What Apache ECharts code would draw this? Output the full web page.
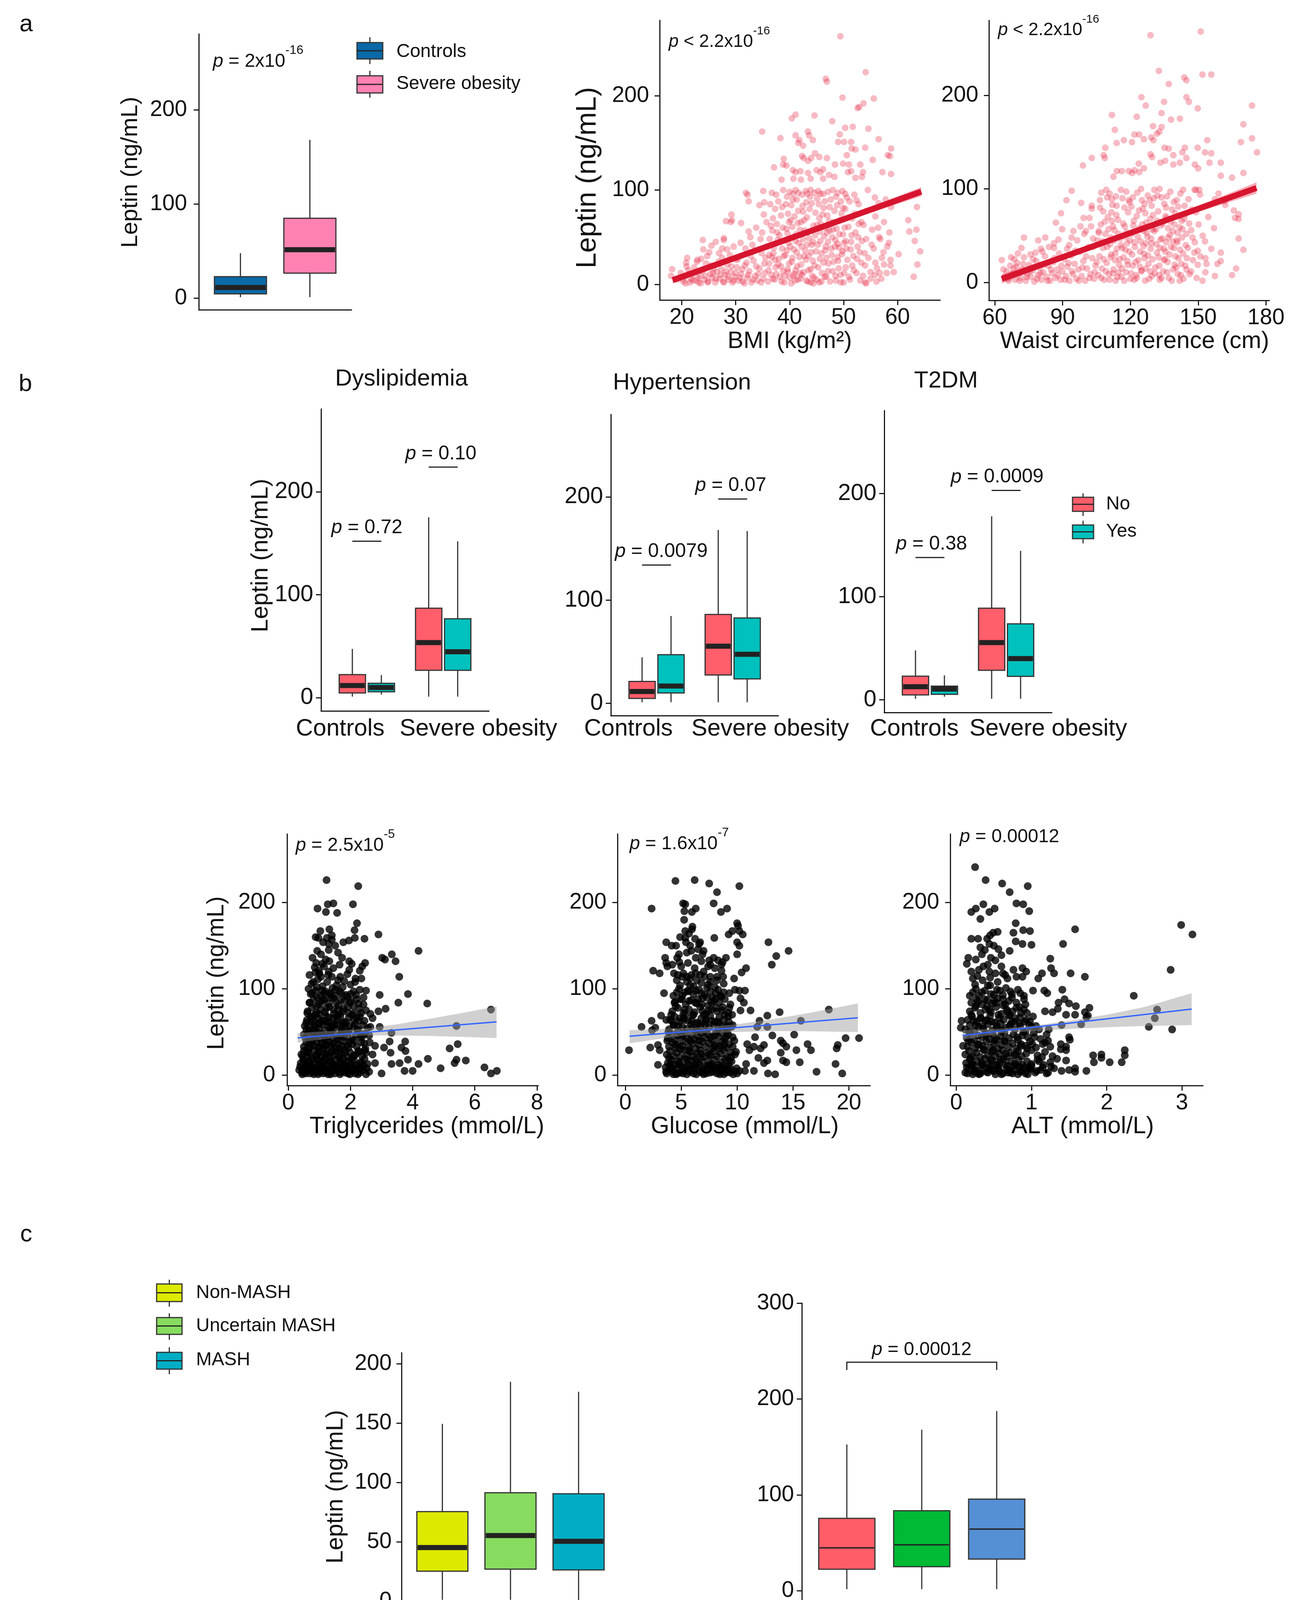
<!DOCTYPE html>
<html>
<head>
<meta charset="utf-8">
<script src="https://cdn.jsdelivr.net/npm/echarts@6/dist/echarts.min.js"></script>
<style>html,body{margin:0;padding:0;background:#fff}#c{width:3331px;height:4284px}</style>
</head>
<body>
<div id="c"></div>
<script>
// ---------------- DATA ----------------
// Panel a: box plot (min, q1, median, q3, max)
const aBoxCats = ['Controls', 'Severe obesity'];
const aBoxStats = [[1, 4.5, 11.2, 22.8, 47.7], [1, 26.5, 51.4, 84.8, 168]];
const leptinTicks = [0, 100, 200];

// Panel a: BMI scatter
const bmiTicks = [20, 30, 40, 50, 60];
const bmiPoints = [
[49.4,263],[54.1,225],[46.7,218],[46.9,215],[49.8,198],[55.6,197],[52.6,187],[52.9,188],[53.7,192],[40.4,176],[41.1,180],[44.6,179],[47.9,173],[34.9,162],[50.3,166],[51.7,167],[54.6,165],[43.4,162],[43.6,158],[49.3,159],[49,151],[50.1,151],[51.4,151],[38.3,155],[41.1,158],[41.8,153],[41.6,150],[42.5,147],[44.3,153],[56.5,154],[54,145],[51.5,144],[52.2,143],[58.8,144],[58.2,137],[58.6,136],[50.6,137],[44.7,139],[45.5,135],[44,134],[42.3,136],[42.6,134],[43.4,131],[38.9,133],[38.8,127],[39.4,126],[46.9,134],[48.4,127],[49.9,128],[51,127],[53.1,127],[55.4,132],[37.1,124],[40.6,121],[41.1,119],[42,120],[43.4,118],[45,121],[45.7,119],[46.2,122],[47.3,116],[48.3,114],[50.8,119],[51.4,120],[52.2,113],[53.4,114],[53.6,119],[57.2,119],[58.8,117],[38.5,111],[40.7,112],[42.1,111],[43.9,112],[46.2,112],[32.2,95],[32.4,88],[54.5,100],[52.4,89],[55.8,92],[58.8,82],[63.6,82],[62,68],[63.5,58],[62.2,56],[63.2,46],[64.2,35],[63.7,21],[63,8],[60.2,32],[56.6,50],[58.4,44],[58.7,26],[58.7,20],[59.3,13],[57.5,21],[55.9,23],[56.7,12],[55,13],[53.3,23],[54.2,1],[34.4,84],[35.3,87],[35.2,74],[33.8,60],[32.4,56],[31,65],[29.2,74],[29.3,68],[28.2,67],[29.1,66],[23.9,47],[26.3,45],[27.8,49],[27.8,47],[28.4,37],[27.5,38],[24,37],[21,28],[20.8,23],[18.2,16],[18,9],[22.9,26],
[31.9,97],[35.1,99],[36.7,97],[38.8,100],[40,98],[40.6,96],[41.1,100],[41.6,97],[43,99],[43.9,100],[44.6,97],[45.3,99],[45.7,96],[47.1,98],[48,100],[48.9,97],[49.8,99],[50.3,96],
[19.2,5],[19.8,12],[20.3,3],[20.6,8],[21.2,15],[21.5,2],[21.9,10],[22.3,18],[22.6,4],[22.8,24],[21.7,6],[20.9,19],
[23.1,2],[23.4,9],[23.8,14],[24.2,5],[24.5,22],[24.9,3],[25.3,11],[25.6,7],[25.9,17],[26.2,2],[26.5,13],[24.7,30],[23.6,27],[25.1,34],
[27.0,6],[27.3,16],[27.7,3],[28.0,10],[28.4,21],[28.7,5],[29.1,13],[29.4,2],[29.8,8],[30.2,18],[30.5,4],[27.5,28],[28.9,31],[30.1,26],
[31.0,11],[31.3,3],[31.7,20],[32.1,7],[32.5,14],[32.9,2],[33.3,25],[33.6,9],[34.0,4],[34.4,17],[34.8,33],[35.1,6],[35.4,12],[31.8,38],[33.1,42],[34.6,48],[35.5,28],
[36.0,3],[36.2,22],[36.4,41],[36.6,10],[36.8,57],[37.0,33],[37.2,5],[37.4,18],[37.6,64],[37.8,47],[38.0,27],[38.2,8],[38.4,73],[38.6,38],[38.8,14],[36.5,62],[37.3,80],[37.9,88],[36.9,70],[38.1,52],
[39.0,2],[39.2,31],[39.4,59],[39.6,16],[39.8,44],[40.0,7],[40.2,68],[40.4,24],[40.6,90],[40.8,37],[41.0,4],[41.2,53],[41.4,19],[41.6,78],[41.8,29],[39.3,85],[39.7,75],[40.5,61],[41.1,46],[40.9,11],[39.9,22],[41.5,65],
[42.0,6],[42.2,40],[42.4,83],[42.6,13],[42.8,57],[43.0,26],[43.2,71],[43.4,3],[43.6,49],[43.8,93],[44.0,34],[44.2,9],[44.4,62],[44.6,20],[44.8,76],[42.3,95],[43.1,87],[43.9,2],[44.3,45],[42.7,30],[43.5,15],[42.1,66],
[45.0,5],[45.2,42],[45.4,85],[45.6,27],[45.8,64],[46.0,12],[46.2,96],[46.4,51],[46.6,36],[46.8,8],[47.0,73],[47.2,22],[47.4,57],[47.6,90],[47.8,31],[45.5,70],[46.3,81],[47.1,45],[45.9,3],[46.7,60],
[48.0,14],[48.2,66],[48.4,40],[48.6,4],[48.8,84],[49.0,25],[49.2,53],[49.4,10],[49.6,75],[49.8,35],[50.0,2],[50.2,60],[50.4,18],[50.6,92],[48.5,47],[49.5,88],[50.1,44],[48.9,29],
[51.0,8],[51.3,37],[51.6,70],[51.9,15],[52.2,55],[52.5,27],[52.8,85],[53.1,4],[53.4,46],[53.7,63],[54.0,20],[54.3,78],[51.5,52],[52.6,40],[53.9,33],[52.0,95],
[55.0,6],[55.3,58],[55.6,38],[55.9,72],[56.2,17],[56.5,86],[56.8,48],[57.1,28],[57.5,66],[57.8,90],[58.1,40],[55.5,80],[56.1,3],
[36.1,15],[36.3,48],[36.7,29],[36.9,6],[37.1,39],[37.5,11],[37.7,55],[37.9,21],[38.3,45],[38.5,3],[38.7,60],[38.9,30],[39.1,9],[39.3,47],[39.5,36],[39.7,13],[39.9,66],[40.1,40],[40.3,1],[40.5,28],[40.7,50],[40.9,72],[41.1,15],[41.3,34],[41.5,5],[41.7,44],[41.9,58],[42.1,21],[42.3,10],[42.5,48],[42.7,68],[42.9,36],[43.1,4],[43.3,55],[43.5,30],[43.7,80],[43.9,16],[44.1,42],[44.3,25],[44.5,7],[44.7,52],[44.9,35],[45.1,63],[45.3,18],[45.5,2],[45.7,46],[45.9,33],[46.1,74],[46.3,23],[46.5,8],[46.7,40],[46.9,55],[47.1,14],[47.3,67],[47.5,3],[47.7,38],[47.9,50],[48.1,24],[48.3,78],[48.5,9],[48.7,59],[48.9,43],[49.1,17],[49.3,68],[49.5,2],[49.7,32],[49.9,53],[50.1,12],[50.3,80],[50.5,38],[50.7,26],[50.9,61],[51.2,5],[51.4,45],[51.8,30],[52.1,75],[52.4,12],[52.7,50],[53.0,34],[53.3,66],[53.6,9],[54.2,48],[54.6,28],[55.2,42],[55.8,10],[56.4,60],[57.0,6],[57.4,34],[58.0,12],[58.5,55],
[36.4,85],[37.5,95],[38.6,82],[39.5,93],[40.3,84],[41.3,90],[42.5,77],[43.3,96],[44.1,86],[45.1,91],[46.5,88],[47.4,82],[48.6,93],[49.9,81],[51.1,88],
[20.1,6],[20.7,1],[21.4,11],[22.0,4],[22.5,13],[23.0,7],[23.5,1],[24.0,16],[24.4,9],[24.8,2],[25.4,20],[25.8,12],[26.3,6],[26.8,24],[27.2,10],[27.8,2],[28.2,14],[28.6,8],[29.2,19],[29.6,4],[30.0,12],[30.4,27],[30.8,7],[31.2,16],[31.6,1],[32.0,23],[32.3,10],[32.8,30],[33.2,5],[33.8,19],[34.2,11],[34.7,2],[35.3,22],[35.8,40],[33.5,36],[34.9,55],[35.7,66],[32.7,50],[30.9,44],[29.6,40],[26.9,33],[25.5,41],
[36.2,31],[37.3,26],[38.4,19],[39.6,54],[40.7,9],[41.9,12],[43.2,42],[44.4,1],[45.6,56],[46.8,28],[48.0,58],[49.2,39],[50.4,46],[51.6,20],[52.8,64],[54.0,2]
];
const bmiFit = [[18.3, 4.5], [64.4, 98.3]];
const bmiBand = [[18.3, 1, 8], [30, 26.3, 30.5], [42, 50.6, 54.6], [54, 74, 80], [64.4, 93.5, 103]];

// Panel a: waist scatter
const waistTicks = [60, 90, 120, 150, 180];
const waistPoints = [
[128.9,264],[151.1,268],[132.6,226],[151.9,222],[155.8,222],[137,212],[143.8,219],[144.8,216],[124.9,198],[134.9,193],[144.8,198],[145.9,193],[126.8,189],[149.8,186],[173.8,189],[111.8,179],[122.8,177],[133.8,181],[138,174],[141.9,175],[130,167],[133.8,166],[132.8,161],[131.7,159],[113.1,163],[170,169],[121.8,158],[123.9,158],[126,153],[129.2,155],[130.2,152],[113.9,149],[117.1,152],[120.7,150],[154,152],[173.8,154],[168.9,150],[108.9,144],[135.1,144],[137,143],[149.8,144],[144.1,144],[153,139],[155.8,138],[176,139],[102.9,133],[108.2,136],[108.7,133],[128.9,137],[129.6,134],[139,136],[143,139],[144.8,133],[99,125],[123.7,127],[126,122],[133.3,128],[135.4,130],[141.9,128],[139,126],[148.5,126],[150,122],[155,128],[160,128],[112.5,113],[114,119],[116.2,119],[119.3,119],[120.8,117],[123.9,118],[121.8,120],[170,117],[160,114],[165,112],
[63.1,24],[72.9,48],[79.2,45],[82.3,48],[80.4,36],[86.2,42],[86.2,37],
[94,98],[91.7,88],[89.3,74],[87,64],[89.8,57],[94,48],[92,36],[98.2,85],[99.3,69],[101.9,69],[102.9,82],[102.9,79],[106.6,80],[107.1,96],[109.7,91],[111.8,89],[103.5,47],[106,53],[100.3,55],
[167.9,73],[167.9,68],[167.9,47],[170,35],[166.8,15],[165,8],[160,32],[160,23],[157.4,7],[153,44],[153.2,26],[153.7,20],[151.9,2],[149.8,19],[149.8,34],[159,95],[157.4,89],[161.6,87],[162,83],[165.8,77],[166.3,69],[149,99],[150.5,99],[148.4,99],[150.8,94],
[64.5,6],[65.2,12],[66.1,2],[66.8,18],[67.5,8],[68.3,15],[69.0,3],[69.8,21],[70.6,10],[71.3,5],[72.1,14],[72.9,27],[73.7,2],[74.4,9],[75.2,19],[76.0,6],[76.8,13],[77.5,1],[78.3,23],[79.1,8],[79.8,16],[80.6,3],[81.4,11],[82.2,28],[82.9,6],[83.7,18],[84.5,2],[85.3,10],[86.0,22],[86.8,5],[87.6,14],[88.4,31],[89.1,3],[89.9,12],[90.7,25],[91.5,7],[92.2,17],[93.0,2],[93.8,29],[94.6,9],[95.3,20],[96.1,4],[96.9,14],[97.7,33],[98.4,7],[99.2,23],[100.0,2],[100.8,15],[101.5,38],[102.3,9],[103.1,26],[103.9,4],[104.6,18],[67.2,27],[70.2,31],[75.8,30],[81.0,33],
[105.4,45],[105.8,8],[106.3,28],[106.9,62],[107.4,15],[107.9,37],[108.4,3],[108.9,52],[109.5,21],[110.0,70],[110.5,9],[111.0,41],[111.5,30],[112.0,83],[112.5,14],[113.0,56],[113.5,2],[114.0,36],[114.5,67],[115.0,19],[115.5,47],[116.0,6],[116.5,90],[117.0,27],[117.5,60],[118.0,11],[118.5,42],[119.0,75],[119.5,33],[120.0,4],[120.5,52],[121.0,18],[121.5,66],[122.0,38],[122.5,8],[123.0,96],[123.5,24],[124.0,58],[124.5,44],[125.0,13],[125.5,79],[126.0,31],[126.5,2],[127.0,64],[127.5,49],[128.0,20],[128.5,88],[129.0,36],[129.5,7],[130.0,72],[130.5,55],[131.0,16],[131.5,41],[132.0,93],[132.5,27],[133.0,3],[133.5,61],[134.0,47],[134.5,12],[135.0,84],[135.5,33],[136.0,69],[136.5,22],[137.0,5],[137.5,51],[138.0,38],[138.5,78],[139.0,14],[139.5,62],[140.0,28],[140.5,45],[141.0,9],[141.5,71],[142.0,35],[142.5,20],[143.0,57],[143.5,4],[144.0,82],[144.5,40],[145.0,26],[146.0,63],[146.8,12],[147.5,48],[148.3,32],[149.0,75],[110.8,95],[115.8,99],[119.7,86],[124.7,100],[127.7,93],[130.6,99],[133.8,91],[137.7,97],[140.5,88],[143.3,99],[113.2,24],[117.8,49],[121.7,3],[125.8,55],[128.8,12],[131.8,66],[134.8,24],[138.8,44],[141.8,2],[144.8,14],[112.3,60],[116.4,37],[120.4,81],[124.2,17],[126.9,42],[129.8,57],[132.7,8],[135.8,43],[139.6,19],[142.7,66],[108.0,76],[111.3,48],[114.8,11],[118.7,23],[122.8,71],[126.3,26],[129.2,47],[133.1,37],[136.7,58],[140.9,53],
[105.1,22],[106.0,55],[107.1,5],[107.6,44],[108.2,25],[108.7,65],[109.2,12],[109.8,38],[110.3,57],[110.8,3],[111.3,27],[111.8,66],[112.3,10],[112.8,45],[113.3,31],[113.8,72],[114.3,6],[114.8,52],[115.3,25],[115.8,40],[116.3,15],[116.8,63],[117.3,2],[117.8,35],[118.3,54],[118.8,19],[119.3,88],[119.8,45],[120.3,10],[120.8,30],[121.3,61],[121.8,43],[122.3,22],[122.8,5],[123.3,49],[123.8,77],[124.3,33],[124.8,12],[125.3,62],[125.8,39],[126.3,84],[126.8,15],[127.3,53],[127.8,29],[128.3,4],[128.8,68],[129.3,42],[129.8,25],[130.3,90],[130.8,10],[131.3,57],[131.8,32],[132.3,76],[132.8,18],[133.3,46],[133.8,5],[134.3,63],[134.8,36],[135.3,25],[135.8,80],[136.3,11],[136.8,48],[137.3,30],[137.8,65],[138.3,2],[138.8,55],[139.3,37],[139.8,74],[140.3,16],[140.8,43],[141.3,26],[141.8,59],[142.3,8],[142.8,48],[143.3,31],[143.8,68],[144.3,18],[144.8,52],[145.4,37],[146.2,9],[146.9,56],[147.7,24],[148.5,43],[149.3,5],[150.2,62],[151.0,28],[152.0,50],[153.2,11],[154.5,70],[155.8,36],[157.0,58],[158.5,20],
[63.8,14],[65.8,4],[67.9,10],[69.5,17],[71.0,2],[72.5,20],[74.0,6],[75.5,12],[77.0,25],[78.7,4],[80.2,10],[81.8,19],[83.3,2],[84.9,14],[86.4,26],[87.9,8],[89.5,18],[91.0,3],[92.6,21],[94.1,12],[95.7,34],[97.2,2],[98.8,16],[100.4,28],[101.9,5],[103.5,38],[104.2,11],[92.9,40],[96.5,45],[99.6,52],[102.6,60],[97.9,60],[94.8,55],[88.2,46],[84.0,38],[78.0,32],[71.8,37],[68.6,25],
[106.5,88],[109.3,99],[113.6,92],[118.2,97],[121.1,91],[125.1,88],[129.4,82],[132.9,100],[136.2,92],[139.2,86],[142.1,95],[145.7,89],[147.2,78],[144.4,73],[113.9,82],[111.6,75],[117.4,80],[126.6,74],[135.5,71],[141.2,81]
];
const waistFit = [[63.1, 4], [175.8, 101]];
const waistBand = [[63.1, -1, 9], [90, 24.5, 30], [120, 51, 55], [150, 75.5, 82], [175.8, 95, 107]];

// Panel b: comorbidity box plots (min, q1, median, q3, max), groups Controls / Severe obesity
const bGroups = ['Controls', 'Severe obesity'];
const bLegend = ['No', 'Yes'];
const dysNo = [[1, 4.6, 11.8, 22.4, 47.4], [1, 26.6, 53.5, 86.9, 175.3]];
const dysYes = [[3, 5.7, 9.9, 14.0, 22], [1, 26.6, 44.6, 76.7, 152]];
const hypNo = [[1, 4.7, 11.4, 21.1, 44.5], [1, 27.4, 55.3, 86.1, 168]];
const hypYes = [[1, 10.0, 16.7, 47.1, 84.6], [1, 23.6, 47.5, 82.7, 167]];
const t2dmNo = [[1, 4.7, 12.7, 22.9, 47.9], [1, 28.6, 55.5, 88.8, 178]];
const t2dmYes = [[3, 5.3, 10.4, 13.3, 23.7], [1, 22.7, 40.0, 73.7, 144.5]];
const dysP = [[1, 152, '0.72'], [2, 224, '0.10']];
const hypP = [[1, 134, '0.0079'], [2, 198, '0.07']];
const t2dmP = [[1, 138, '0.38'], [2, 203, '0.0009']];

// Panel b: scatter plots
const tgTicks = [0, 2, 4, 6, 8];
const tgPoints = [
[1.23,226],[2.25,219],[0.94,193],[1.27,198],[1.45,199],[2.08,198],[1.21,189],[1.57,188],[2.21,176],[2.13,168],[1.03,167],[1.32,169],[2.9,163],[2.14,159],[2.45,158],[0.97,159],[1.24,159],[1.4,157],[1.77,154],[1.95,156],[1.3,152],[1.51,150],[0.93,144],[4.19,144],[3.33,140],[3.02,136],[3.11,134],[3.45,132],[1.73,136],[1.96,132],[2.04,129],[2.47,130],[2.38,126],[1.09,129],[1.15,126],[1.32,132],[0.68,116],[0.87,119],[0.98,121],[1.96,122],[2.3,121],[2.16,112],[1.67,114],[3.57,114],[3.85,94],[2.94,93],[4.47,83],[3.54,84],[5.41,57],[6.52,76],[5.45,36],[5.19,31],[4.49,19],[5.35,14],[5.41,18],[5.71,17],[4.9,8],[6.31,9],[6.52,2],[6.71,5],[4.19,13],[4.0,5],[3.74,5],[3.32,13],[3.58,14],[3.85,18],[3.76,39],[3.64,32],[3.77,28],[3.26,39],[3.29,26],[3.08,32],[3.0,2],[2.94,56],[3.13,77],[2.9,74],[3.32,49],[2.64,56],[2.62,38],[2.79,34],[2.71,24],[2.79,14],[2.64,71],[2.71,66],
[0.35,6],[0.45,1],[0.52,4],[0.6,8],[0.68,2],[0.75,5],[0.82,1],[0.9,7],[0.97,3],[1.05,9],[1.12,2],[1.2,6],[1.28,1],[1.35,4],[1.43,8],[1.5,2],[1.58,5],[1.66,1],[1.74,7],[1.82,3],[1.9,9],[1.98,1],[2.06,5],[2.14,2],[2.22,7],[2.3,3],[2.4,6],[2.5,1],[2.6,4],
[0.4,14],[0.48,18],[0.56,12],[0.64,16],[0.72,11],[0.8,19],[0.88,13],[0.96,17],[1.04,12],[1.12,15],[1.2,19],[1.28,11],[1.36,16],[1.44,13],[1.52,18],[1.6,12],[1.68,15],[1.76,19],[1.84,11],[1.92,16],[2.0,13],[2.1,18],[2.2,12],[2.32,15],[2.45,19],[2.55,13],
[0.42,24],[0.5,28],[0.58,22],[0.66,26],[0.74,21],[0.82,29],[0.9,23],[0.98,27],[1.06,22],[1.14,25],[1.22,29],[1.3,21],[1.38,26],[1.46,23],[1.54,28],[1.62,22],[1.7,25],[1.8,29],[1.9,21],[2.0,26],[2.12,23],[2.25,28],[2.38,22],[2.5,26],
[0.5,33],[0.58,38],[0.66,31],[0.74,36],[0.82,34],[0.9,39],[0.98,32],[1.06,37],[1.14,31],[1.22,35],[1.3,39],[1.38,33],[1.46,37],[1.54,31],[1.62,36],[1.72,34],[1.82,39],[1.94,32],[2.06,36],[2.2,33],[2.35,38],[2.48,31],
[0.55,43],[0.63,48],[0.71,41],[0.79,46],[0.87,44],[0.95,49],[1.03,42],[1.11,47],[1.19,41],[1.27,45],[1.35,49],[1.43,43],[1.51,47],[1.6,41],[1.7,46],[1.8,44],[1.92,49],[2.05,42],[2.18,47],[2.32,44],[2.45,48],[2.6,46],
[0.58,53],[0.68,58],[0.78,51],[0.88,56],[0.98,54],[1.08,59],[1.18,52],[1.28,57],[1.38,51],[1.48,55],[1.58,59],[1.7,53],[1.82,57],[1.95,51],[2.1,56],[2.25,53],[2.4,58],
[0.6,64],[0.72,68],[0.84,62],[0.96,66],[1.08,63],[1.2,69],[1.32,61],[1.44,66],[1.56,64],[1.68,69],[1.8,62],[1.95,67],[2.1,64],[2.3,68],[2.45,63],
[0.62,74],[0.76,78],[0.9,72],[1.04,76],[1.18,73],[1.32,79],[1.46,71],[1.6,76],[1.76,74],[1.92,79],[2.1,72],[2.28,77],[2.5,75],
[0.68,84],[0.82,88],[0.98,82],[1.14,87],[1.3,83],[1.46,89],[1.62,81],[1.8,86],[1.98,84],[2.2,88],[2.42,82],
[0.72,94],[0.88,98],[1.04,92],[1.2,97],[1.36,93],[1.52,99],[1.7,95],[1.9,91],[2.1,97],[2.3,99],[2.5,98],
[0.75,106],[0.95,111],[1.1,103],[1.25,108],[1.4,114],[1.55,104],[1.8,109],[2.0,105],[1.0,118],[1.3,120],[0.85,125],
[0.38,10],[0.46,22],[0.54,9],[0.62,31],[0.7,14],[0.78,40],[0.86,6],[0.94,25],[1.02,48],[1.1,17],[1.18,35],[1.26,4],[1.34,54],[1.42,28],[1.5,11],[1.58,43],[1.66,19],[1.74,61],[1.82,26],[1.9,5],[1.98,39],[2.06,70],[2.14,23],[2.22,52],[2.3,9],[2.38,45],[2.46,29],[2.56,55],
[0.44,3],[0.52,16],[0.6,27],[0.68,38],[0.76,9],[0.84,52],[0.92,18],[1.0,33],[1.08,5],[1.16,44],[1.24,24],[1.32,15],[1.4,36],[1.48,58],[1.56,7],[1.64,30],[1.72,50],[1.8,13],[1.88,34],[1.96,57],[2.04,19],[2.12,40],[2.2,66],[2.28,27],[2.36,14],[2.44,37],
[0.5,47],[0.58,61],[0.66,52],[0.74,66],[0.82,59],[0.9,80],[0.98,71],[1.06,85],[1.14,63],[1.22,78],[1.3,67],[1.38,90],[1.46,76],[1.54,84],[1.62,70],[1.7,88],[1.78,77],[1.86,93],[1.94,72],[2.02,86],[2.1,80],[2.18,93],[2.26,83],[2.34,72],[2.42,90],
[0.65,100],[0.8,108],[0.92,102],[1.05,114],[1.15,95],[1.28,116],[1.42,101],[1.6,110],[1.75,102],[1.9,117],[2.15,108],[2.35,112],[0.9,130],[1.2,134],[1.45,124],[1.65,128],[1.05,140],[1.3,145],[0.78,136],[1.6,142],[1.12,154],[1.4,162],[0.88,160],
[0.48,7],[0.56,2],[0.64,10],[0.72,6],[0.8,3],[0.88,9],[0.96,1],[1.04,5],[1.12,10],[1.2,3],[1.28,7],[1.36,1],[1.44,12],[1.52,6],[1.6,9],[1.68,3],[1.76,12],[1.84,6],[1.92,2],[2.0,10],[2.08,7],[2.16,11],[2.24,1],[2.32,8],[2.42,11],[2.52,8],
[0.53,57],[0.61,72],[0.69,84],[0.77,95],[0.85,70],[0.93,90],[1.01,60],[1.09,98],[1.17,88],[1.25,62],[1.33,95],[1.41,57],[1.49,92],[1.57,68],[1.65,97],[1.73,56],[1.86,61],[2.0,94],[2.15,59],[2.27,63]
];
const tgFit = [[0.3, 43.2], [6.7, 61.8]];
const tgBand = [[0.3, 37.7, 48.8], [1.0, 41, 50.5], [1.6, 44, 51.5], [2.5, 46, 54], [3.5, 46, 59], [4.5, 45.5, 65], [5.5, 44.5, 71.5], [6.7, 43, 79.6]];

const gluTicks = [0, 5, 10, 15, 20];
const gluPoints = [
[4.48,225],[6.2,226],[7.5,222],[10.2,219],[8.2,212],[2.35,193],[7.9,199],[5.17,199],[5.36,198],[6.3,193],[5.95,189],[5.28,190],[5.26,180],[8.55,189],[9.1,193],[10,176],[10.08,173],[5.36,167],[5.96,169],[9.57,167],[9.24,163],[10.2,167],[10.5,163],[7.96,159],[6.24,158],[6.69,154],[5.36,159],[5.42,154],[12.8,154],[3.66,154],[4.15,150],[4.54,150],[10,154],[10.2,150],[14.6,144],[5.9,144],[6.5,146],[7,144],[10,140],[13.5,138],[13.1,128],[3.56,136],[3.66,130],[3.76,126],[4.64,136],[4.83,131],[7.5,133],[7.6,128],[7.9,136],[8.3,133],[8.7,131],[9.0,136],[10.8,124],[10.4,119],[2.49,121],[3.07,118],[9.73,112],[8.75,114],[8.6,121],[8.2,114],[7.6,114],[4.35,118],[4.7,116],[5.1,114],[5.5,114],[5.9,116],[6.3,118],[6.7,116],[7.1,114],[3.46,95],[9.8,99],[10.2,98],[10.7,98],[10.3,89],[10.6,84],[10.3,75],[11.2,75],[12.7,69],[13.8,73],[18.2,76],[15.7,63],[12,63],[11.8,56],[12.7,56],[1.45,56],[2.35,63],[2.39,52],[2.68,55],[3.2,69],[3.66,64],[0.33,29],[2.23,32],[2.92,35],[3.07,29],[2.92,12],[13.15,46],[15.1,47],[19.7,43],[20.9,43],[19,35],[18.9,31],[18.8,13],[19.4,2],[17.1,4],[16.3,36],[16.6,29],[15.6,15],[15.3,29],[13.9,40],[14.1,37],[14.4,33],[13.9,26],[14.1,17],[14.4,15],[12.76,2],[13.4,1],[12.1,31],[12.4,35],[11.6,44],[11.5,33],[11.9,20],[12.4,14],[12.7,17],[10.9,36],[11.1,29],[10.8,13],[11.5,5],[10.7,5],[10.2,5],
[3.7,2],[4.0,6],[4.3,1],[4.6,8],[4.9,3],[5.2,5],[5.5,1],[5.8,7],[6.1,2],[6.4,9],[6.7,4],[7.0,1],[7.3,6],[7.6,3],[7.9,8],[8.2,2],[8.5,5],[8.8,1],[9.1,7],[9.4,3],[9.7,5],[10.0,2],
[3.8,14],[4.1,18],[4.4,12],[4.7,16],[5.0,11],[5.3,19],[5.6,13],[5.9,17],[6.2,12],[6.5,15],[6.8,19],[7.1,11],[7.4,16],[7.7,13],[8.0,18],[8.3,12],[8.6,15],[8.9,19],[9.2,11],[9.5,16],
[3.7,24],[4.0,28],[4.3,22],[4.6,26],[4.9,21],[5.2,29],[5.5,23],[5.8,27],[6.1,22],[6.4,25],[6.7,29],[7.0,21],[7.3,26],[7.6,23],[7.9,28],[8.2,22],[8.5,25],[8.8,29],[9.1,21],[9.4,26],[9.8,24],
[3.9,33],[4.2,38],[4.5,31],[4.8,36],[5.1,34],[5.4,39],[5.7,32],[6.0,37],[6.3,31],[6.6,35],[6.9,39],[7.2,33],[7.5,37],[7.8,31],[8.1,36],[8.4,34],[8.7,39],[9.0,32],[9.3,36],[9.6,33],
[3.8,43],[4.1,48],[4.4,41],[4.7,46],[5.0,44],[5.3,49],[5.6,42],[5.9,47],[6.2,41],[6.5,45],[6.8,49],[7.1,43],[7.4,47],[7.7,41],[8.0,46],[8.3,44],[8.6,49],[8.9,42],[9.2,47],[9.6,44],
[3.9,53],[4.3,58],[4.7,51],[5.1,56],[5.5,54],[5.9,59],[6.3,52],[6.7,57],[7.1,51],[7.5,55],[7.9,59],[8.3,53],[8.7,57],[9.1,51],[9.5,56],
[4.0,64],[4.4,68],[4.8,62],[5.2,66],[5.6,63],[6.0,69],[6.4,61],[6.8,66],[7.2,64],[7.6,69],[8.0,62],[8.4,67],[8.8,64],[9.2,68],
[4.2,74],[4.7,78],[5.2,72],[5.7,76],[6.2,73],[6.7,79],[7.2,71],[7.7,76],[8.2,74],[8.7,79],[9.2,72],
[4.4,84],[4.9,88],[5.4,82],[5.9,87],[6.4,83],[6.9,89],[7.4,81],[7.9,86],[8.4,84],[8.9,88],[9.4,82],
[4.6,96],[5.1,92],[5.6,98],[6.1,94],[6.6,99],[7.1,93],[7.6,97],[8.1,95],[8.6,91],
[4.9,104],[5.5,108],[6.1,103],[6.8,107],[7.4,105],[8.0,102],
[3.6,9],[3.9,20],[4.2,4],[4.5,35],[4.8,14],[5.1,46],[5.4,7],[5.7,29],[6.0,55],[6.3,18],[6.6,40],[6.9,3],[7.2,62],[7.5,24],[7.8,10],[8.1,50],[8.4,31],[8.7,7],[9.0,44],[9.3,16],[9.6,58],[9.9,27],
[3.75,40],[4.05,13],[4.35,58],[4.65,2],[4.95,30],[5.25,64],[5.55,18],[5.85,40],[6.15,8],[6.45,52],[6.75,25],[7.05,70],[7.35,11],[7.65,44],[7.95,34],[8.25,62],[8.55,9],[8.85,36],[9.15,57],[9.45,21],[9.75,40],
[4.1,70],[4.5,80],[4.9,66],[5.3,76],[5.7,86],[6.1,70],[6.5,88],[6.9,74],[7.3,90],[7.7,84],[8.1,78],[8.5,92],[8.9,70],[9.3,78],
[4.3,92],[4.8,100],[5.3,96],[5.8,104],[6.3,98],[6.8,95],[7.3,101],[7.8,90],[8.3,99],[8.8,96],[9.3,95],
[4.6,110],[5.2,118],[5.8,112],[6.4,110],[7.0,120],[7.6,108],[8.2,110],[8.8,106],[4.2,128],[5.0,126],[5.6,130],[6.2,124],[6.8,132],[7.4,126],[8.0,124],[8.6,128],[4.8,140],[5.5,142],[6.3,136],[6.9,140],[5.8,150],[6.6,152],[4.9,160],[5.7,164],[6.0,172],
[3.65,4],[3.95,11],[4.25,7],[4.55,1],[4.85,12],[5.15,2],[5.45,10],[5.75,4],[6.05,11],[6.35,1],[6.65,12],[6.95,6],[7.25,2],[7.55,11],[7.85,4],[8.15,9],[8.45,1],[8.75,11],[9.05,3],[9.35,9],[9.65,1],[9.95,8],
[3.85,50],[4.15,63],[4.45,85],[4.75,57],[5.05,88],[5.35,70],[5.65,97],[5.95,63],[6.25,84],[6.55,60],[6.85,82],[7.15,58],[7.45,75],[7.75,63],[8.05,88],[8.35,60],[8.65,75],[8.95,55],[9.25,62],[9.55,70]
];
const gluFit = [[0.38, 45.1], [20.8, 66.5]];
const gluBand = [[0.38, 37, 52.3], [3, 42, 53.5], [5, 45.5, 54.5], [7, 48.5, 55.5], [10, 50, 59], [13, 51, 64.5], [16, 51, 71], [20.8, 50, 83]];

const altTicks = [0, 1, 2, 3];
const altPoints = [
[0.25,241],[0.39,226],[0.61,222],[0.95,219],[0.71,212],[0.36,198],[0.26,193],[0.2,189],[0.32,181],[0.44,189],[0.51,193],[0.8,199],[0.89,198],[0.97,190],[0.79,176],[0.76,165],[0.89,168],[0.98,167],[1.58,169],[2.99,174],[3.14,163],[1.42,152],[0.2,158],[0.29,158],[0.41,158],[0.45,162],[0.49,165],[0.55,166],[0.79,155],[0.88,152],[1.0,151],[0.71,144],[1.25,135],[2.85,122],[1.26,124],[1.3,118],[1.52,118],[1.71,114],[1.09,112],[1.14,118],[0.14,129],[0.16,136],[0.88,124],[0.93,120],[0.88,114],[0.8,114],[1.02,98],[1.17,98],[1.21,95],[1.41,99],[2.36,92],[1.36,84],[1.44,88],[1.5,83],[1.59,80],[1.46,70],[1.58,70],[1.18,74],[1.28,73],[1.35,77],[1.77,78],[1.71,73],[2.67,76],[2.64,66],[2.56,56],[2.87,53],[1.73,67],[1.75,69],[1.66,59],[1.4,58],[1.23,53],[1.5,44],[1.51,41],[1.39,36],[1.46,33],[1.39,30],[1.46,29],[1.82,23],[1.93,24],[1.93,20],[1.83,15],[2.04,15],[2.2,15],[2.24,29],[2.24,23],[1.73,5],[1.46,17],[1.58,8],[1.58,4],[1.4,5],[1.5,6],[0.07,63],[0.06,55],[0.09,34],
[0.12,3],[0.17,7],[0.22,1],[0.27,5],[0.32,2],[0.37,8],[0.42,3],[0.47,6],[0.52,1],[0.57,5],[0.62,2],[0.67,7],[0.72,3],[0.77,6],[0.82,1],[0.87,5],[0.92,2],[0.98,8],[1.05,3],[1.12,6],[1.2,2],[1.3,8],
[0.13,14],[0.18,18],[0.23,12],[0.28,16],[0.33,11],[0.38,19],[0.43,13],[0.48,17],[0.53,12],[0.58,15],[0.63,19],[0.68,11],[0.73,16],[0.78,13],[0.83,18],[0.88,12],[0.94,16],[1.0,13],[1.08,18],[1.16,12],[1.25,15],[1.34,19],
[0.12,24],[0.17,28],[0.22,22],[0.27,26],[0.32,21],[0.37,29],[0.42,23],[0.47,27],[0.52,22],[0.57,25],[0.62,29],[0.67,21],[0.72,26],[0.77,23],[0.82,28],[0.87,22],[0.93,25],[1.0,29],[1.08,23],[1.18,27],[1.28,22],
[0.15,33],[0.2,38],[0.25,31],[0.3,36],[0.35,34],[0.4,39],[0.45,32],[0.5,37],[0.55,31],[0.6,35],[0.65,39],[0.7,33],[0.75,37],[0.8,31],[0.86,36],[0.92,34],[0.98,39],[1.06,32],[1.15,36],[1.25,33],
[0.14,43],[0.19,48],[0.24,41],[0.29,46],[0.34,44],[0.39,49],[0.44,42],[0.49,47],[0.54,41],[0.59,45],[0.64,49],[0.7,43],[0.76,47],[0.82,41],[0.88,46],[0.95,44],[1.03,49],[1.12,42],[1.2,47],
[0.12,53],[0.18,58],[0.24,51],[0.3,56],[0.36,54],[0.42,59],[0.48,52],[0.54,57],[0.6,51],[0.66,55],[0.72,59],[0.78,53],[0.85,57],[0.92,51],[1.0,56],[1.1,53],
[0.15,64],[0.21,68],[0.27,62],[0.33,66],[0.39,63],[0.45,69],[0.51,61],[0.57,66],[0.63,64],[0.7,69],[0.77,62],[0.85,67],[0.93,64],[1.02,68],
[0.18,74],[0.25,78],[0.32,72],[0.39,76],[0.46,73],[0.53,79],[0.6,71],[0.67,76],[0.75,74],[0.84,79],[0.94,72],
[0.2,84],[0.27,88],[0.34,82],[0.41,87],[0.48,83],[0.55,89],[0.62,81],[0.7,86],[0.8,84],[0.9,88],
[0.22,96],[0.3,92],[0.38,98],[0.46,94],[0.54,99],[0.62,93],[0.72,97],[0.85,95],
[0.25,105],[0.35,110],[0.45,113],[0.55,108],[0.65,116],[0.3,122],[0.42,128],[0.52,133],[0.6,139],[0.38,145],[0.5,150],[0.62,118],[0.45,104],[0.22,112],
[0.14,9],[0.19,20],[0.24,4],[0.29,35],[0.34,14],[0.39,46],[0.44,7],[0.49,29],[0.54,55],[0.59,18],[0.64,40],[0.69,3],[0.74,62],[0.79,24],[0.84,10],[0.89,50],[0.94,31],[0.99,7],[1.04,44],[1.1,16],[1.18,38],[1.26,10],
[0.16,40],[0.21,13],[0.26,58],[0.31,2],[0.36,30],[0.41,64],[0.46,18],[0.51,40],[0.56,8],[0.61,52],[0.66,25],[0.71,70],[0.76,11],[0.81,44],[0.86,34],[0.91,62],[0.96,9],[1.01,36],[1.06,57],[1.14,21],[1.22,40],
[0.2,70],[0.26,80],[0.32,66],[0.38,88],[0.44,76],[0.5,86],[0.56,70],[0.62,88],[0.68,74],[0.74,90],[0.8,78],[0.86,72],[0.92,82],[0.98,62],
[0.18,92],[0.26,100],[0.34,96],[0.42,104],[0.5,93],[0.58,98],[0.66,101],[0.74,94],[0.82,99],[0.9,92],
[0.2,120],[0.28,115],[0.36,126],[0.44,120],[0.52,118],[0.6,126],[0.68,112],[0.76,122],[0.26,134],[0.34,140],[0.46,136],[0.56,146],[0.44,152],[0.32,148],
[0.15,2],[0.2,11],[0.25,6],[0.3,1],[0.35,12],[0.4,4],[0.45,10],[0.5,5],[0.55,11],[0.6,1],[0.65,12],[0.7,6],[0.75,2],[0.8,11],[0.85,4],[0.9,9],[0.95,1],[1.0,11],[1.07,5],[1.15,9],[1.22,3],
[0.17,50],[0.23,63],[0.29,85],[0.35,57],[0.41,80],[0.47,62],[0.53,84],[0.59,60],[0.65,82],[0.71,57],[0.78,66],[0.84,60],[0.9,76],[0.97,58]
];
const altFit = [[0.083, 46], [3.13, 76.6]];
const altBand = [[0.083, 41, 52], [0.6, 48.5, 54], [1.0, 51, 57], [1.5, 53.5, 63], [2.0, 55.5, 70], [2.5, 57, 79], [3.13, 58, 95]];

// Panel c
const cLeftCats = ['Non-MASH', 'Uncertain MASH', 'MASH'];
const cLeftStats = [[1.2, 25.3, 45.2, 75.5, 149.5], [1.2, 27, 55.3, 91.4, 184.9], [1, 26.4, 50.5, 90.6, 176.6]];
const cLeftTicks = [0, 50, 100, 150, 200];
const balloonCats = ['0', '1', '2'];
const balloonStats = [[1.8, 22.6, 44.9, 75.6, 152.6], [1.8, 25.2, 48, 83.6, 168], [1.8, 33.2, 64.4, 95.7, 187.6]];
const balloonTicks = [0, 100, 200, 300];
const balloonP = [[1, 3, 238.4, 230.3, '0.00012']];

// ---------------- STYLE / LAYOUT ----------------
const FONT = "'Liberation Sans', Arial, Helvetica, sans-serif";
const INK = '#111111';
const AX = '#1a1a1a';
const grids = [
  { left: 509, top: 87, width: 391, height: 706 },    // 0 a box
  { left: 1689, top: 52, width: 718, height: 716 },   // 1 a BMI
  { left: 2532, top: 52, width: 718, height: 717 },   // 2 a waist
  { left: 822, top: 1047, width: 430, height: 773 },  // 3 dys
  { left: 1564, top: 1061, width: 429, height: 771 }, // 4 hyp
  { left: 2264, top: 1051, width: 429, height: 773 }, // 5 t2dm
  { left: 735, top: 2135, width: 643, height: 644 },  // 6 tg
  { left: 1581, top: 2135, width: 647, height: 644 }, // 7 glu
  { left: 2433, top: 2135, width: 647, height: 644 }, // 8 alt
  { left: 1028, top: 3463, width: 558, height: 668 }, // 9 c left
  { left: 2053, top: 3336, width: 614, height: 775 }  // 10 c right
];

function yAx(gi, min, max, ticks, margin, fs) {
  return {
    type: 'value', gridIndex: gi, min: min, max: max, splitLine: { show: false },
    axisLine: { show: true, onZero: false, lineStyle: { color: AX, width: 3 } },
    axisTick: { show: true, length: 13, customValues: ticks, lineStyle: { color: AX, width: 3 } },
    axisLabel: { show: true, customValues: ticks, margin: margin || 24, fontSize: fs || 57, color: INK, fontFamily: FONT }
  };
}
function xAx(gi, min, max, ticks, fmt) {
  const o = {
    type: 'value', gridIndex: gi, min: min, max: max, splitLine: { show: false },
    axisLine: { show: true, onZero: false, lineStyle: { color: AX, width: 3 } },
    axisTick: { show: false }, axisLabel: { show: false }
  };
  if (ticks) {
    o.axisTick = { show: !fmt, length: 13, customValues: ticks, lineStyle: { color: AX, width: 3 } };
    o.axisLabel = { show: true, customValues: ticks, margin: 17, fontSize: 57, color: INK, fontFamily: FONT };
    if (fmt) o.axisLabel.formatter = fmt;
  }
  return o;
}

function boxSeries(gi, stats, colors, offset, width, medW, name) {
  return {
    type: 'custom', name: name, xAxisIndex: gi, yAxisIndex: gi, silent: true, z: 3,
    data: stats.map(function (s, i) { return [i + 1].concat(s); }),
    renderItem: function (params, api) {
      const x = api.value(0) + offset;
      const lo = api.value(1), q1 = api.value(2), md = api.value(3), q3 = api.value(4), hi = api.value(5);
      const half = api.size([width, 0])[0] / 2;
      const pHi = api.coord([x, hi]), pQ3 = api.coord([x, q3]), pMd = api.coord([x, md]), pQ1 = api.coord([x, q1]), pLo = api.coord([x, lo]);
      const col = Array.isArray(colors) ? colors[params.dataIndex] : colors;
      const ls = { stroke: '#333333', lineWidth: 3 };
      return { type: 'group', children: [
        { type: 'line', shape: { x1: pHi[0], y1: pHi[1], x2: pQ3[0], y2: pQ3[1] }, style: ls },
        { type: 'line', shape: { x1: pQ1[0], y1: pQ1[1], x2: pLo[0], y2: pLo[1] }, style: ls },
        { type: 'rect', shape: { x: pQ3[0] - half, y: pQ3[1], width: half * 2, height: pQ1[1] - pQ3[1] }, style: { fill: col, stroke: '#333333', lineWidth: 3 } },
        { type: 'line', shape: { x1: pMd[0] - half + 2, y1: pMd[1], x2: pMd[0] + half - 2, y2: pMd[1] }, style: { stroke: '#222222', lineWidth: medW } }
      ] };
    }
  };
}

function richP(fs, withSup) {
  const lh = withSup ? Math.round(fs * 1.85) : Math.round(fs * 1.2);
  return {
    i: { fontStyle: 'italic', fontSize: fs, fontFamily: FONT, fill: INK, color: INK, lineHeight: lh },
    n: { fontSize: fs, fontFamily: FONT, fill: INK, color: INK, lineHeight: lh },
    s: { fontSize: Math.round(fs * 0.66), fontFamily: FONT, fill: INK, color: INK, lineHeight: Math.round(fs * 0.66), verticalAlign: 'top' }
  };
}

function pSeries(gi, items, half, dx) {
  return {
    type: 'custom', xAxisIndex: gi, yAxisIndex: gi, silent: true, z: 5,
    data: items.map(function (p) { return [p[0], p[1]]; }),
    renderItem: function (params, api) {
      const x = api.value(0), y = api.value(1);
      const a = api.coord([x - half, y]), b = api.coord([x + half, y]);
      const label = items[params.dataIndex][2];
      const shift = dx ? dx[params.dataIndex] : 0;
      return { type: 'group', children: [
        { type: 'line', shape: { x1: a[0], y1: a[1], x2: b[0], y2: b[1] }, style: { stroke: '#222222', lineWidth: 3 } },
        { type: 'text', x: (a[0] + b[0]) / 2 + shift, y: a[1] - 34, style: { text: '{i|p}{n| = ' + label + '}', rich: richP(50, false), align: 'center', verticalAlign: 'middle', textAlign: 'center', textVerticalAlign: 'middle' } }
      ] };
    }
  };
}

function bracketSeries(gi, items) {
  return {
    type: 'custom', xAxisIndex: gi, yAxisIndex: gi, silent: true, z: 5,
    data: items.map(function (p) { return [p[0], p[2]]; }),
    renderItem: function (params, api) {
      const it = items[params.dataIndex];
      const a = api.coord([it[0], it[2]]), b = api.coord([it[1], it[2]]);
      const a2 = api.coord([it[0], it[3]]), b2 = api.coord([it[1], it[3]]);
      const st = { stroke: '#222222', lineWidth: 3, fill: 'none' };
      return { type: 'group', children: [
        { type: 'polyline', shape: { points: [a2, a, b, b2] }, style: st },
        { type: 'text', x: (a[0] + b[0]) / 2, y: a[1] - 32, style: { text: '{i|p}{n| = ' + it[4] + '}', rich: richP(48, false), align: 'center', verticalAlign: 'middle', textAlign: 'center', textVerticalAlign: 'middle' } }
      ] };
    }
  };
}

function bandSeries(gi, band, color) {
  return {
    type: 'custom', xAxisIndex: gi, yAxisIndex: gi, silent: true, z: 4,
    data: [[band[0][0], band[0][1]]],
    renderItem: function (params, api) {
      const pts = band.map(function (b) { return api.coord([b[0], b[1]]); })
        .concat(band.slice().reverse().map(function (b) { return api.coord([b[0], b[2]]); }));
      return { type: 'polygon', shape: { points: pts }, style: { fill: color } };
    }
  };
}

function scatterSeries(gi, pts, size, color) {
  return { type: 'scatter', xAxisIndex: gi, yAxisIndex: gi, data: pts, symbolSize: size, silent: true, z: 2,
    itemStyle: { color: color, borderWidth: 0 } };
}
function fitSeries(gi, pts, color, w) {
  return { type: 'line', xAxisIndex: gi, yAxisIndex: gi, data: pts, symbol: 'none', showSymbol: false, silent: true, z: 6,
    lineStyle: { color: color, width: w } };
}

// graphic helpers
function T(x, y, text, fs, o) {
  o = o || {};
  const st = { text: text, fontSize: fs, fontFamily: FONT, fill: INK, fontStyle: o.italic ? 'italic' : 'normal',
    align: o.align || 'center', verticalAlign: o.va || 'middle', textAlign: o.align || 'center', textVerticalAlign: o.va || 'middle' };
  if (o.rich) st.rich = o.rich;
  return { type: 'text', x: x, y: y, rotation: o.rot || 0, silent: true, z: 10, style: st };
}
function key(x, top, w, h, wTop, wBot, color) {
  const cx = x + w / 2, med = top + h / 2;
  return { type: 'group', silent: true, z: 10, children: [
    { type: 'line', shape: { x1: cx, y1: wTop, x2: cx, y2: top }, style: { stroke: '#333', lineWidth: 3 } },
    { type: 'line', shape: { x1: cx, y1: top + h, x2: cx, y2: wBot }, style: { stroke: '#333', lineWidth: 3 } },
    { type: 'rect', shape: { x: x, y: top, width: w, height: h }, style: { fill: color, stroke: '#333', lineWidth: 3 } },
    { type: 'line', shape: { x1: x, y1: med, x2: x + w, y2: med }, style: { stroke: '#222', lineWidth: 3 } }
  ] };
}

const aCols = ['#0A69A6', '#FF82B2'];
const noCol = '#FF5E6A', yesCol = '#00C1BD';
const cLeftCols = ['#DCEA00', '#87DC5F', '#00ADC5'];
const balloonCols = ['#FF5E68', '#00B934', '#558FD4'];
const aPt = 'rgba(228,30,58,0.38)';
const aLine = '#D7152E';
const aBandCol = 'rgba(235,70,95,0.45)';
const bBandCol = 'rgba(150,150,150,0.45)';

const R48 = richP(48, true);
const R46 = richP(46, true);

const graphics = [
  T(67, 63, 'a', 62), T(65, 984, 'b', 62), T(67, 3161, 'c', 62),
  // a legend
  key(914, 109, 66, 42, 95, 164, aCols[0]), key(914, 194, 66, 44, 181, 250, aCols[1]),
  T(1015, 133, aBoxCats[0], 48, { align: 'left' }), T(1015, 215, aBoxCats[1], 48, { align: 'left' }),
  // a texts
  T(545, 158, '{i|p}{n| = 2x10}{s|-16}', 48, { align: 'left', rich: R48 }),
  T(1712, 107, '{i|p}{n| < 2.2x10}{s|-16}', 46, { align: 'left', rich: R46 }),
  T(2555, 77, '{i|p}{n| < 2.2x10}{s|-16}', 46, { align: 'left', rich: R46 }),
  T(334, 441, 'Leptin (ng/mL)', 60, { rot: Math.PI / 2 }),
  T(1505, 455, 'Leptin (ng/mL)', 72, { rot: Math.PI / 2 }),
  T(2022, 874, 'BMI (kg/m\u00B2)', 61),
  T(2905, 874, 'Waist circumference (cm)', 61),
  // b titles
  T(1028, 970, 'Dyslipidemia', 60), T(1746, 980, 'Hypertension', 60), T(2422, 975, 'T2DM', 60),
  T(668, 1422, 'Leptin (ng/mL)', 61, { rot: Math.PI / 2 }),
  T(871, 1866, bGroups[0], 61), T(1225, 1866, bGroups[1], 61),
  T(1609, 1866, bGroups[0], 61), T(1972, 1866, bGroups[1], 61),
  T(2341, 1866, bGroups[0], 61), T(2684, 1866, bGroups[1], 61),
  key(2746, 1273, 54, 36, 1263, 1321, noCol), key(2746, 1344, 54, 35, 1333, 1391, yesCol),
  T(2832, 1291, bLegend[0], 48, { align: 'left' }), T(2832, 1361, bLegend[1], 48, { align: 'left' }),
  // b scatter texts
  T(757, 2165, '{i|p}{n| = 2.5x10}{s|-5}', 48, { align: 'left', rich: R48 }),
  T(1612, 2161, '{i|p}{n| = 1.6x10}{s|-7}', 48, { align: 'left', rich: R48 }),
  T(2457, 2143, '{i|p}{n| = 0.00012}', 48, { align: 'left', rich: richP(48, false) }),
  T(555, 2491, 'Leptin (ng/mL)', 61, { rot: Math.PI / 2 }),
  T(1093, 2884, 'Triglycerides (mmol/L)', 61),
  T(1907, 2884, 'Glucose (mmol/L)', 61),
  T(2772, 2884, 'ALT (mmol/L)', 61),
  // c
  key(401, 3287, 65, 45, 3276, 3345, cLeftCols[0]), key(401, 3373, 65, 43, 3362, 3430, cLeftCols[1]), key(401, 3462, 65, 43, 3449, 3518, cLeftCols[2]),
  T(502, 3310, cLeftCats[0], 48, { align: 'left' }), T(502, 3395, cLeftCats[1], 48, { align: 'left' }), T(502, 3482, cLeftCats[2], 48, { align: 'left' }),
  T(860, 3806, 'Leptin (ng/mL)', 61, { rot: Math.PI / 2 }),
  T(2360, 4223, 'Ballooning', 61)
];

const option = {
  animation: false,
  backgroundColor: '#ffffff',
  textStyle: { fontFamily: FONT },
  grid: grids.map(function (g) { return Object.assign({ containLabel: false, show: false }, g); }),
  xAxis: [
    xAx(0, 0.4, 2.6),
    xAx(1, 15.9, 67.9, bmiTicks),
    xAx(2, 57.4, 181.5, waistTicks),
    xAx(3, 0.4, 2.6), xAx(4, 0.4, 2.6), xAx(5, 0.4, 2.6),
    xAx(6, -0.04, 8.04, tgTicks),
    xAx(7, -0.7, 21.9, gluTicks),
    xAx(8, -0.08, 3.28, altTicks),
    xAx(9, 0.4, 3.6),
    xAx(10, 0.4, 3.6, [1, 2, 3], function (v) { return balloonCats[Math.round(v) - 1]; })
  ],
  yAxis: [
    yAx(0, -12.4, 280.5, leptinTicks, 30),
    yAx(1, -16.6, 280, leptinTicks, 27),
    yAx(2, -19, 280, leptinTicks, 27),
    yAx(3, -12.9, 280.5, leptinTicks, 20, 59),
    yAx(4, -12, 280, leptinTicks, 20, 59),
    yAx(5, -12.3, 280.5, leptinTicks, 20, 59),
    yAx(6, -12, 279.4, leptinTicks, 30),
    yAx(7, -12, 279.4, leptinTicks, 28),
    yAx(8, -12, 279.4, leptinTicks, 28),
    yAx(9, -10.5, 209.4, cLeftTicks, 25),
    yAx(10, -15.6, 300, balloonTicks, 20)
  ],
  series: [
    boxSeries(0, aBoxStats, aCols, 0, 0.75, 13, 'Panel a'),
    scatterSeries(1, bmiPoints, 17, aPt), bandSeries(1, bmiBand, aBandCol), fitSeries(1, bmiFit, aLine, 15),
    scatterSeries(2, waistPoints, 17, aPt), bandSeries(2, waistBand, aBandCol), fitSeries(2, waistFit, aLine, 15),
    boxSeries(3, dysNo, noCol, -0.19, 0.345, 13, 'No'), boxSeries(3, dysYes, yesCol, 0.19, 0.345, 13, 'Yes'), pSeries(3, dysP, 0.19, [0, -6]),
    boxSeries(4, hypNo, noCol, -0.19, 0.345, 13, 'No'), boxSeries(4, hypYes, yesCol, 0.19, 0.345, 13, 'Yes'), pSeries(4, hypP, 0.19, [12, -5]),
    boxSeries(5, t2dmNo, noCol, -0.19, 0.345, 13, 'No'), boxSeries(5, t2dmYes, yesCol, 0.19, 0.345, 13, 'Yes'), pSeries(5, t2dmP, 0.19, [4, -23]),
    scatterSeries(6, tgPoints, 20, '#000000'), bandSeries(6, tgBand, bBandCol), fitSeries(6, tgFit, '#3366FF', 3.5),
    scatterSeries(7, gluPoints, 20, '#000000'), bandSeries(7, gluBand, bBandCol), fitSeries(7, gluFit, '#3366FF', 3.5),
    scatterSeries(8, altPoints, 20, '#000000'), bandSeries(8, altBand, bBandCol), fitSeries(8, altFit, '#3366FF', 3.5),
    boxSeries(9, cLeftStats, cLeftCols, 0, 0.75, 13, 'MASH'),
    boxSeries(10, balloonStats, balloonCols, 0, 0.75, 3.5, 'Ballooning'), bracketSeries(10, balloonP)
  ],
  graphic: { elements: graphics }
};

const chart = echarts.init(document.getElementById('c'), null, { renderer: 'canvas', width: 3331, height: 4284 });
chart.setOption(option);
</script>
</body>
</html>
